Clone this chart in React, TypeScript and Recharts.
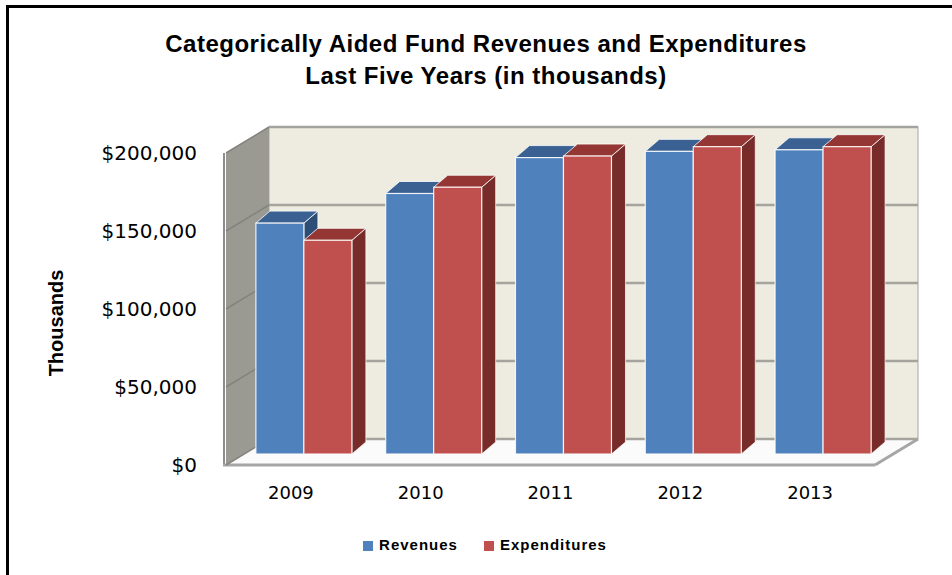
import React from 'react';
import {
  BarChart,
  Bar,
  XAxis,
  YAxis,
  Legend,
  ReferenceArea,
  ReferenceLine,
} from 'recharts';

const years = ['2009', '2010', '2011', '2012', '2013'];
const revenues = [148000, 167000, 190000, 194000, 195000];
const expenditures = [137000, 171000, 191000, 197000, 197000];
const yTicks = [0, 50000, 100000, 150000, 200000];
const seriesOrder = ['Revenues', 'Expenditures'];

const data = years.map((year, i) => ({
  year,
  revenues: revenues[i],
  expenditures: expenditures[i],
}));

// fake 3d: wall depth, bar offset from the front plane, bar depth
const WALL = { x: 43, y: -26 };
const OFF = { x: 13, y: -11 };
const DEPTH = { x: 14, y: -12 };

const shades: Record<string, { top: string; side: string }> = {
  '#4f81bd': { top: '#3a6191', side: '#2c4d75' },
  '#c0504d': { top: '#943634', side: '#772c2a' },
};

const pts = (a: number[][]) => a.map((p) => p.join(',')).join(' ');

const Bar3D = (props: any) => {
  const { x, y, width: w, height: h, fill } = props;
  if (w == null || h == null) return null;
  const fx = x + OFF.x;
  const fy = y + OFF.y;
  const c = shades[fill] || { top: fill, side: fill };
  return (
    <g>
      <polygon
        points={pts([
          [fx + w, fy],
          [fx + w + DEPTH.x, fy + DEPTH.y],
          [fx + w + DEPTH.x, fy + h + DEPTH.y],
          [fx + w, fy + h],
        ])}
        fill={c.side}
        stroke="#fff"
        strokeWidth={1}
        strokeOpacity={0.7}
      />
      <polygon
        points={pts([
          [fx, fy],
          [fx + w, fy],
          [fx + w + DEPTH.x, fy + DEPTH.y],
          [fx + DEPTH.x, fy + DEPTH.y],
        ])}
        fill={c.top}
        stroke="#fff"
        strokeWidth={1}
        strokeOpacity={0.8}
      />
      <rect x={fx} y={fy} width={w} height={h} fill={fill} stroke="#fff" strokeWidth={1.2} strokeOpacity={0.85} />
    </g>
  );
};

const Walls = (props: any) => {
  const { x, y, width: w, height: h } = props;
  const b = y + h;
  return (
    <g>
      <rect x={x + WALL.x} y={y + WALL.y} width={w} height={h} fill="#eeece1" stroke="#a6a6a6" strokeWidth={1} />
      <polygon
        points={pts([
          [x, y],
          [x + WALL.x, y + WALL.y],
          [x + WALL.x, b + WALL.y],
          [x, b],
        ])}
        fill="#9a9992"
      />
      <line x1={x - 2} y1={y} x2={x - 2} y2={b} stroke="#8c8c8c" strokeWidth={2} />
      <polygon
        points={pts([
          [x, b],
          [x + w, b],
          [x + w + WALL.x, b + WALL.y],
          [x + WALL.x, b + WALL.y],
        ])}
        fill="#fbfbfb"
      />
      <line x1={x - 3} y1={b} x2={x + w} y2={b} stroke="#a6a6a6" strokeWidth={3} />
      <line x1={x + w} y1={b} x2={x + w + WALL.x} y2={b + WALL.y} stroke="#a6a6a6" strokeWidth={3} />
    </g>
  );
};

const GridLine = (props: any) => {
  const { x1, y1, x2 } = props;
  if (x1 == null) return null;
  return (
    <g>
      <line x1={x1} y1={y1} x2={x1 + WALL.x} y2={y1 + WALL.y} stroke="#84837d" strokeWidth={1.5} />
      <line x1={x1 + WALL.x} y1={y1 + WALL.y} x2={x2 + WALL.x} y2={y1 + WALL.y} stroke="#a4a39d" strokeWidth={2.5} />
    </g>
  );
};

const money = (v: number) => '$' + v.toLocaleString('en-US');

const legendText = (value: string) => (
  <span
    style={{
      color: '#000',
      fontFamily: '"Liberation Sans", Arial, sans-serif',
      fontWeight: 'bold',
      fontSize: 15,
      letterSpacing: 1,
      marginLeft: 2,
      marginRight: 16,
    }}
  >
    {value}
  </span>
);

const App = () => {
  return (
    <div style={{ position: 'absolute', left: 0, top: 0, width: 952, height: 575, background: '#fff' }}>
      <BarChart
        width={952}
        height={575}
        data={data}
        margin={{ top: 153, right: 77, bottom: 70, left: 0 }}
        barCategoryGap="13%"
        barGap={0}
      >
        <ReferenceArea y1={0} y2={200000} shape={<Walls />} zIndex={-60} ifOverflow="visible" />
        {yTicks.map((v) => (
          <ReferenceLine key={v} y={v} shape={<GridLine />} zIndex={-50} ifOverflow="visible" />
        ))}
        <XAxis
          dataKey="year"
          height={40}
          axisLine={false}
          tickLine={false}
          tickSize={0}
          tickMargin={21}
          tick={{ fill: '#000', fontSize: 18, fontFamily: '"DejaVu Sans", sans-serif' }}
        />
        <YAxis
          width={226}
          domain={[0, 200000]}
          ticks={yTicks}
          tickFormatter={money}
          axisLine={false}
          tickLine={false}
          tickSize={0}
          tickMargin={29}
          tick={{ fill: '#000', fontSize: 20, fontFamily: '"DejaVu Sans", sans-serif' }}
          label={{
            content: (p: any) => {
              const vb = p.viewBox || { x: 0, y: 153, height: 312 };
              const cx = vb.x + 56;
              const cy = vb.y + vb.height / 2 + 14;
              return (
                <text
                  x={cx}
                  y={cy}
                  transform={`rotate(-90 ${cx} ${cy})`}
                  textAnchor="middle"
                  dominantBaseline="central"
                  fill="#000"
                  fontSize={20}
                  fontWeight="bold"
                  fontFamily='"Liberation Sans", Arial, sans-serif'
                >
                  Thousands
                </text>
              );
            },
          }}
        />
        <Legend
          layout="horizontal"
          align="center"
          verticalAlign="middle"
          iconType="square"
          iconSize={10}
          formatter={legendText}
          itemSorter={(item: any) => seriesOrder.indexOf(item.value)}
          wrapperStyle={{ top: 536, left: 22, width: 952 }}
        />
        <Bar dataKey="revenues" name="Revenues" fill="#4f81bd" shape={Bar3D} isAnimationActive={false} />
        <Bar dataKey="expenditures" name="Expenditures" fill="#c0504d" shape={Bar3D} isAnimationActive={false} />
      </BarChart>
      <div
        style={{
          position: 'absolute',
          left: 6,
          top: 5,
          width: 946,
          height: 570,
          borderLeft: '3px solid #000',
          borderTop: '3px solid #000',
          pointerEvents: 'none',
        }}
      />
      <div
        style={{
          position: 'absolute',
          left: 0,
          top: 28,
          width: 972,
          textAlign: 'center',
          fontFamily: '"Liberation Sans", Arial, sans-serif',
          fontWeight: 'bold',
          fontSize: 24,
          letterSpacing: 0.5,
          lineHeight: '32px',
          color: '#000',
        }}
      >
        Categorically Aided Fund Revenues and Expenditures
        <br />
        Last Five Years (in thousands)
      </div>
    </div>
  );
};

export default App;
